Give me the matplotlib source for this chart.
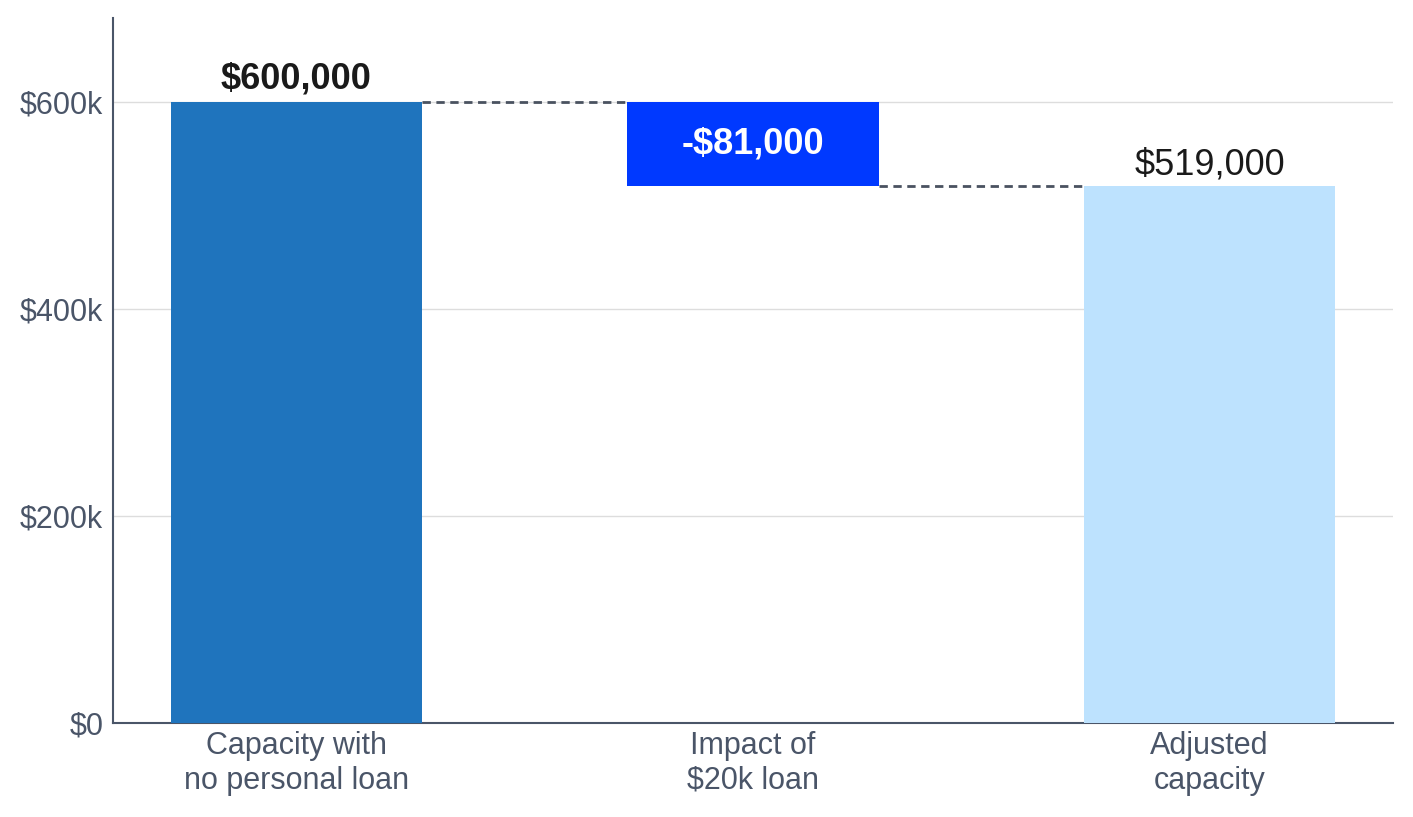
import matplotlib
matplotlib.use('Agg')
import matplotlib.pyplot as plt
from matplotlib.ticker import FuncFormatter

plt.rcParams['font.family'] = ['Liberation Sans', 'DejaVu Sans']

categories = ['Capacity with\nno personal loan', 'Impact of\n$20k loan', 'Adjusted\ncapacity']
start_value = 600000
change = -81000
end_value = 519000
bar_labels = ['$600,000', '-$81,000', '$519,000']

fig = plt.figure(figsize=(14.13, 8.17), dpi=100, facecolor='white')
ax = fig.add_axes([0.08, 0.1151, 0.9058, 0.8629])

x = [0, 1, 2]
w = 0.55
bottoms = [0, start_value + change, 0]
heights = [start_value, -change, end_value]
colors = ['#1f74bd', '#0039ff', '#bde2fe']
ax.bar(x, heights, bottom=bottoms, width=w, color=colors, zorder=3)

# connectors
ax.plot([x[0] + w / 2, x[1] - w / 2], [start_value, start_value],
        ls=(0, (3, 2)), color='#4a5260', lw=2, zorder=4)
ax.plot([x[1] + w / 2, x[2] - w / 2], [end_value, end_value],
        ls=(0, (3, 2)), color='#4a5260', lw=2, zorder=4)

# value labels
ax.annotate(bar_labels[0], (x[0], start_value), xytext=(0, 4), textcoords='offset points',
            ha='center', va='bottom', fontsize=26, fontweight='bold', color='#1a1a1a')
ax.text(x[1], start_value + change / 2, bar_labels[1], ha='center', va='center',
        fontsize=26, fontweight='bold', color='white', zorder=5)
ax.annotate(bar_labels[2], (x[2], end_value), xytext=(0, 2), textcoords='offset points',
            ha='center', va='bottom', fontsize=26, color='#1a1a1a')

ax.set_xlim(-0.4015, 2.4015)
ax.set_ylim(0, 681000)
ax.set_yticks([0, 200000, 400000, 600000])
ax.yaxis.set_major_formatter(FuncFormatter(lambda v, p: '$0' if v == 0 else f'${int(v/1000)}k'))
ax.set_xticks(x)
ax.set_xticklabels(categories, linespacing=1.2)
ax.grid(axis='y', color='#dddddd', lw=1, zorder=0)
ax.tick_params(axis='both', length=0, labelsize=22, labelcolor='#4a5568', pad=7)
ax.tick_params(axis='x', pad=6)

for s in ['top', 'right']:
    ax.spines[s].set_visible(False)
for s in ['left', 'bottom']:
    ax.spines[s].set_color('#4a5568')
    ax.spines[s].set_linewidth(1.5)

fig.savefig('out.png', dpi=100, facecolor='white')
